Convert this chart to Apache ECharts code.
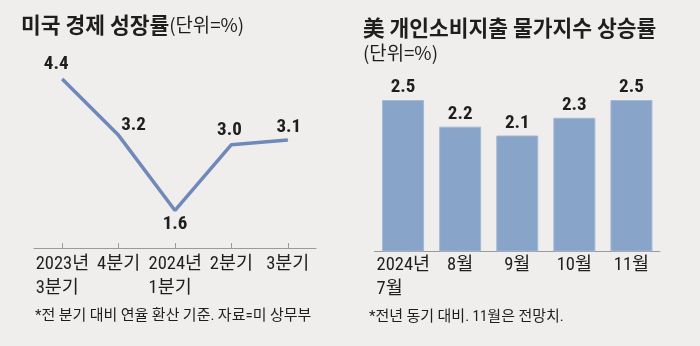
<!DOCTYPE html>
<html>
<head>
<meta charset="utf-8">
<script src="https://cdn.jsdelivr.net/npm/echarts@6/dist/echarts.min.js"></script>
<style>
html,body{margin:0;padding:0;background:#efeeec;}
#c{width:700px;height:346px;}
</style>
</head>
<body>
<div id="c"></div>
<script>
// ---- data ----
var growthCats = ['2023년\n3분기', '4분기', '2024년\n1분기', '2분기', '3분기'];
var growthVals = [4.4, 3.2, 1.6, 3.0, 3.1];
var pceCats = ['2024년\n7월', '8월', '9월', '10월', '11월'];
var pceVals = [2.5, 2.2, 2.1, 2.3, 2.5];

var leftTitle = '미국 경제 성장률';
var leftUnit = '(단위=%)';
var rightTitle = '美 개인소비지출 물가지수 상승률';
var rightUnit = '(단위=%)';
var leftNote = '*전 분기 대비 연율 환산 기준. 자료=미 상무부';
var rightNote = '*전년 동기 대비. 11월은 전망치.';

// label placement for line points (layout, separate from data)
var lineLabelLayout = [
  {position: 'top', offset: [-6, 0], distance: 5},
  {position: 'top', offset: [15, 5], distance: 5},
  {position: 'bottom', offset: [0, 0], distance: 4},
  {position: 'top', offset: [-2, 0], distance: 4},
  {position: 'top', offset: [1, 0], distance: 3}
];

var NUM_FONT = "'Roboto Condensed','Noto Sans Condensed','DejaVu Sans Condensed','Noto Sans CJK KR',sans-serif";
var KR_FONT = "'Noto Sans CJK KR',sans-serif";
var TXT = '#1e1e1e';
var LINE_C = '#7089bb';
var BAR_C = '#88a4c8';

function catFormatter(v) {
  if (v.indexOf('\n') < 0) return v;
  return v.split('\n').map(function (s) { return '{a|' + s + '}'; }).join('\n');
}
var axisLabelBase = {
  color: TXT,
  fontSize: 18.5,
  lineHeight: 24,
  fontFamily: NUM_FONT,
  interval: 0,
  hideOverlap: false,
  formatter: catFormatter,
  rich: {a: {width: 53, align: 'left', fontSize: 18.5, lineHeight: 24, color: TXT, fontFamily: NUM_FONT}}
};

var chart = echarts.init(document.getElementById('c'), null, {renderer: 'canvas'});
chart.setOption({
  backgroundColor: '#efeeec',
  animation: false,
  grid: [
    {left: 34, width: 282, top: 79, height: 169},
    {left: 374.5, width: 285.5, top: 55.6, height: 195.4}
  ],
  xAxis: [
    {
      type: 'category', gridIndex: 0, data: growthCats, boundaryGap: true,
      axisLine: {lineStyle: {color: '#9a9a9a', width: 1}},
      axisTick: {show: true, inside: true, alignWithLabel: true, interval: 0, length: 5, lineStyle: {color: '#9a9a9a'}},
      axisLabel: Object.assign({}, axisLabelBase, {margin: 4})
    },
    {
      type: 'category', gridIndex: 1, data: pceCats, boundaryGap: true,
      axisLine: {lineStyle: {color: '#9a9a9a', width: 1}},
      axisTick: {show: false},
      axisLabel: Object.assign({}, axisLabelBase, {margin: 2})
    }
  ],
  yAxis: [
    {type: 'value', gridIndex: 0, min: 0.8, max: 4.4, show: false, splitLine: {show: false}},
    {type: 'value', gridIndex: 1, min: 0.8, max: 3.0, show: false, splitLine: {show: false}}
  ],
  series: [
    {
      type: 'line', xAxisIndex: 0, yAxisIndex: 0,
      data: growthVals.map(function (v, i) {
        var L = lineLabelLayout[i];
        return {value: v, label: {position: L.position, offset: L.offset, distance: L.distance}};
      }),
      symbol: 'circle', symbolSize: 1, showSymbol: true,
      itemStyle: {color: LINE_C},
      lineStyle: {color: LINE_C, width: 3.5},
      label: {
        show: true, color: TXT, fontSize: 19, fontWeight: 'bold', fontFamily: NUM_FONT,
        formatter: function (p) { return p.value.toFixed(1); }
      }
    },
    {
      type: 'bar', xAxisIndex: 1, yAxisIndex: 1,
      data: pceVals,
      barWidth: 42,
      itemStyle: {color: BAR_C, borderColor: '#a3b8d4', borderWidth: 1},
      label: {
        show: true, position: 'top', distance: 3, color: TXT, fontSize: 19, fontWeight: 'bold', fontFamily: NUM_FONT,
        formatter: function (p) { return p.value.toFixed(1); }
      }
    }
  ],
  graphic: [
    {
      type: 'text', left: 21, top: 14,
      style: {
        text: '{b|' + leftTitle + '}{n|' + leftUnit + '}',
        rich: {
          b: {fontSize: 21.5, fontWeight: 'bold', fontFamily: KR_FONT, fill: TXT, lineHeight: 28},
          n: {fontSize: 18.8, fontFamily: KR_FONT, fill: TXT, lineHeight: 28}
        }
      }
    },
    {
      type: 'text', left: 363, top: 14,
      style: {text: rightTitle, fontSize: 21.5, fontWeight: 'bold', fontFamily: KR_FONT, fill: TXT, lineHeight: 28}
    },
    {
      type: 'text', left: 363, top: 40,
      style: {text: rightUnit, fontSize: 18.8, fontFamily: KR_FONT, fill: TXT, lineHeight: 26}
    },
    {
      type: 'text', left: 35, top: 306,
      style: {text: leftNote, fontSize: 15, fontFamily: NUM_FONT, fill: TXT, lineHeight: 20}
    },
    {
      type: 'text', left: 369, top: 307,
      style: {text: rightNote, fontSize: 15, fontFamily: NUM_FONT, fill: TXT, lineHeight: 20}
    }
  ]
});
</script>
</body>
</html>
